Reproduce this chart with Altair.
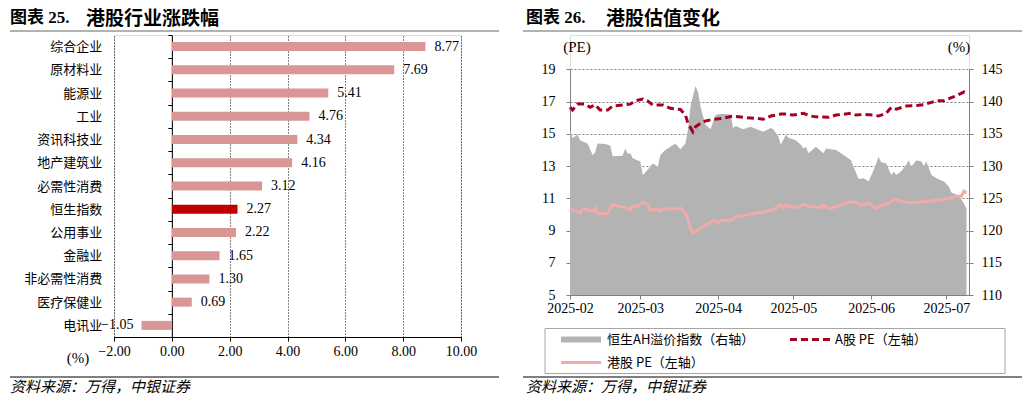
import altair as alt
import pandas as pd

# ---------------- data ----------------
categories = ['综合企业', '原材料业', '能源业', '工业', '资讯科技业', '地产建筑业', '必需性消费',
              '恒生指数', '公用事业', '金融业', '非必需性消费', '医疗保健业', '电讯业']
changes = [8.77, 7.69, 5.41, 4.76, 4.34, 4.16, 3.12, 2.27, 2.22, 1.65, 1.30, 0.69, -1.05]
highlight_cat = '恒生指数'

ah_dates = ['2025-02-01', '2025-02-02', '2025-02-04', '2025-02-05', '2025-02-08', '2025-02-10', '2025-02-11',
            '2025-02-12', '2025-02-15', '2025-02-17', '2025-02-18', '2025-02-22', '2025-02-23', '2025-02-24',
            '2025-02-25', '2025-02-26', '2025-03-01', '2025-03-02', '2025-03-03', '2025-03-06', '2025-03-08',
            '2025-03-09', '2025-03-11', '2025-03-15', '2025-03-17', '2025-03-19', '2025-03-20', '2025-03-21',
            '2025-03-23', '2025-03-24', '2025-03-25', '2025-03-27', '2025-03-29', '2025-03-31', '2025-04-02',
            '2025-04-06', '2025-04-07', '2025-04-08', '2025-04-11', '2025-04-14', '2025-04-16', '2025-04-19',
            '2025-04-22', '2025-04-23', '2025-04-25', '2025-04-26', '2025-04-28', '2025-04-29', '2025-05-02',
            '2025-05-04', '2025-05-05', '2025-05-06', '2025-05-07', '2025-05-10', '2025-05-13', '2025-05-14',
            '2025-05-18', '2025-05-21', '2025-05-24', '2025-05-25', '2025-05-27', '2025-05-29', '2025-05-31',
            '2025-06-02', '2025-06-04', '2025-06-05', '2025-06-07', '2025-06-09', '2025-06-10', '2025-06-11',
            '2025-06-13', '2025-06-15', '2025-06-16', '2025-06-17', '2025-06-19', '2025-06-21', '2025-06-22',
            '2025-06-23', '2025-06-25', '2025-06-27', '2025-06-30', '2025-07-02', '2025-07-03', '2025-07-06',
            '2025-07-08', '2025-07-09']
ah_values = [135.6, 134.3, 134.9, 134.0, 133.5, 131.7, 132.1, 133.5, 133.4, 133.2, 131.5, 131.6, 132.7, 131.9,
             132.0, 131.2, 130.7, 128.6, 129.0, 130.4, 129.9, 131.7, 132.5, 133.5, 132.6, 133.5, 135.6, 139.2,
             142.4, 141.5, 139.2, 136.4, 135.7, 137.9, 138.1, 138.0, 135.9, 136.2, 135.7, 136.1, 135.8, 135.3,
             135.9, 135.7, 134.6, 133.3, 134.8, 134.4, 134.0, 133.3, 132.7, 133.0, 132.0, 133.0, 132.0, 132.7,
             132.5, 131.7, 130.9, 129.9, 128.0, 128.1, 127.6, 129.4, 131.4, 130.6, 130.4, 128.6, 129.1, 128.6,
             129.2, 130.2, 130.9, 129.9, 130.9, 130.7, 130.0, 130.7, 128.6, 128.1, 127.6, 126.8, 125.9, 125.4,
             124.2, 123.4]

a_dates = ['2025-02-01', '2025-02-02', '2025-02-04', '2025-02-07', '2025-02-09', '2025-02-11', '2025-02-13',
           '2025-02-16', '2025-02-18', '2025-02-22', '2025-02-25', '2025-02-27', '2025-03-02', '2025-03-04',
           '2025-03-06', '2025-03-10', '2025-03-13', '2025-03-17', '2025-03-19', '2025-03-20', '2025-03-22',
           '2025-03-23', '2025-03-26', '2025-03-30', '2025-04-03', '2025-04-07', '2025-04-11', '2025-04-16',
           '2025-04-19', '2025-04-22', '2025-04-26', '2025-04-28', '2025-05-01', '2025-05-05', '2025-05-08',
           '2025-05-10', '2025-05-15', '2025-05-18', '2025-05-24', '2025-05-26', '2025-05-29', '2025-06-02',
           '2025-06-04', '2025-06-07', '2025-06-09', '2025-06-11', '2025-06-15', '2025-06-21', '2025-06-25',
           '2025-06-27', '2025-06-30', '2025-07-04', '2025-07-08', '2025-07-09']
a_pe = [16.64, 16.47, 16.84, 16.84, 16.64, 16.80, 16.47, 16.47, 16.72, 16.78, 16.84, 17.05, 17.16, 17.03,
        16.78, 16.78, 16.58, 16.51, 16.16, 15.65, 15.12, 15.43, 15.75, 15.90, 15.96, 16.10, 16.02, 15.96,
        15.90, 16.10, 16.22, 16.22, 16.16, 16.27, 16.10, 16.05, 16.02, 16.16, 16.27, 16.16, 16.20, 16.16,
        16.10, 16.27, 16.64, 16.53, 16.72, 16.78, 16.95, 17.05, 17.05, 17.30, 17.59, 17.51]

hk_dates = ['2025-02-01', '2025-02-02', '2025-02-04', '2025-02-05', '2025-02-06', '2025-02-08', '2025-02-10',
            '2025-02-11', '2025-02-12', '2025-02-16', '2025-02-18', '2025-02-20', '2025-02-23', '2025-02-25',
            '2025-02-26', '2025-02-28', '2025-03-02', '2025-03-04', '2025-03-05', '2025-03-08', '2025-03-09',
            '2025-03-10', '2025-03-14', '2025-03-17', '2025-03-19', '2025-03-20', '2025-03-21', '2025-03-22',
            '2025-03-25', '2025-03-29', '2025-03-31', '2025-04-01', '2025-04-02', '2025-04-06', '2025-04-08',
            '2025-04-11', '2025-04-15', '2025-04-19', '2025-04-23', '2025-04-26', '2025-04-27', '2025-04-28',
            '2025-04-30', '2025-05-02', '2025-05-05', '2025-05-08', '2025-05-12', '2025-05-13', '2025-05-15',
            '2025-05-18', '2025-05-21', '2025-05-24', '2025-05-26', '2025-05-28', '2025-05-31', '2025-06-03',
            '2025-06-05', '2025-06-08', '2025-06-10', '2025-06-14', '2025-06-17', '2025-06-21', '2025-06-23',
            '2025-06-26', '2025-06-29', '2025-07-01', '2025-07-02', '2025-07-05', '2025-07-07', '2025-07-08',
            '2025-07-09']
hk_pe = [10.16, 10.30, 10.16, 10.09, 10.37, 10.30, 10.16, 10.40, 10.06, 10.06, 10.63, 10.51, 10.43, 10.30,
         10.50, 10.51, 10.76, 10.60, 10.26, 10.33, 10.20, 10.37, 10.33, 10.40, 10.06, 9.70, 9.12, 8.85,
         9.12, 9.53, 9.64, 9.43, 9.64, 9.64, 9.84, 9.91, 10.06, 10.15, 10.30, 10.57, 10.43, 10.60,
         10.47, 10.42, 10.63, 10.48, 10.43, 10.57, 10.37, 10.47, 10.65, 10.78, 10.74, 10.57, 10.68, 10.37,
         10.57, 10.68, 10.93, 10.78, 10.72, 10.78, 10.78, 10.88, 10.93, 10.99, 10.95, 11.13, 11.13, 11.44,
         11.34]

left_ticks = [-2, 0, 2, 4, 6, 8, 10]
pe_ticks = [5, 7, 9, 11, 13, 15, 17, 19]
ah_ticks = [110, 115, 120, 125, 130, 135, 140, 145]

# ---------------- style ----------------
CJK = 'Noto Sans CJK SC'
SERIF = 'Liberation Serif, Noto Sans CJK SC'
BAR = '#D99694'
BAR_HL = '#C00000'
AREA = '#B3B3B3'
RED = '#A50026'
PINK = '#F0AAAA'
GREY = '#808080'

one = pd.DataFrame({'v': [0]})


def txt(s, x, y, size, font=CJK, align='left', baseline='middle', weight='normal', style='normal'):
    return alt.Chart(one).mark_text(text=s, align=align, baseline=baseline, fontSize=size, font=font,
                                    fontWeight=weight, fontStyle=style, color='black').encode(
        x=alt.value(x), y=alt.value(y))


def hrule(x1, x2, y, color, width, dash=None):
    kw = dict(color=color, strokeWidth=width)
    if dash:
        kw['strokeDash'] = dash
    return alt.Chart(one).mark_rule(**kw).encode(x=alt.value(x1), x2=alt.value(x2), y=alt.value(y))


# ---------------- left panel ----------------
W1, H1 = 347, 302
df_bar = pd.DataFrame({'cat': categories, 'val': changes})
df_bar['kind'] = ['hl' if c == highlight_cat else 'base' for c in categories]

zero_off = -W1 * 2 / 12

y_bar = alt.Y('cat:N', sort=categories, scale=alt.Scale(paddingInner=0, paddingOuter=0),
              axis=alt.Axis(title=None, offset=zero_off, tickBand='extent', tickSize=4, tickColor='black',
                            domainColor='black', domainWidth=1, labelPadding=66, labelFont=CJK,
                            labelFontSize=13, labelColor='black', grid=False))
x_bar = alt.X('val:Q', scale=alt.Scale(domain=[-2, 10], nice=False, zero=False),
              axis=alt.Axis(title=None, values=left_ticks, format='.2f', grid=True, gridDash=[1, 2],
                            gridColor='black', gridOpacity=1, gridWidth=1, tickSize=4, tickColor='black',
                            domainColor='black', labelFont=SERIF, labelFontSize=14, labelColor='black',
                            labelPadding=3, labelFlush=False))

bars = alt.Chart(df_bar).mark_bar(size=9).encode(
    x=x_bar, y=y_bar,
    color=alt.Color('kind:N', scale=alt.Scale(domain=['base', 'hl'], range=[BAR, BAR_HL]), legend=None))
lab_pos = alt.Chart(df_bar).transform_filter(alt.datum.val >= 0).mark_text(
    align='left', dx=9, baseline='middle', font=SERIF, fontSize=14, color='black').encode(
    x=alt.X('val:Q'), y=alt.Y('cat:N', sort=categories), text=alt.Text('val:Q', format='.2f'))
lab_neg = alt.Chart(df_bar).transform_filter(alt.datum.val < 0).mark_text(
    align='right', dx=-8, baseline='middle', font=SERIF, fontSize=14, color='black').encode(
    x=alt.X('val:Q'), y=alt.Y('cat:N', sort=categories), text=alt.Text('val:Q', format='.2f'))

left = alt.layer(
    bars, lab_pos, lab_neg,
    txt('图表 25.', -104, -25, 17, font=SERIF, baseline='top', weight='bold'),
    txt('港股行业涨跌幅', -28, -25, 19, font=SERIF, baseline='top', weight='bold'),
    hrule(-104, 385, -4, '#999999', 1.5),
    txt('(%)', -36, 323, 15, font=SERIF, align='center'),
    hrule(-104, 385, 342, 'black', 1),
    txt('资料来源：万得，中银证券', -104, 352, 15, style='italic'),
).properties(width=W1, height=H1)

# ---------------- right panel ----------------
# plot origin shares the left panel's top; the value range sits inside via explicit ranges
W2, H2 = 399, 260
Y_RANGE = [260, 34.3]


def dt(m, d):
    return alt.DateTime(year=2025, month=m, date=d, utc=True)


x_time = alt.X('date:T', scale=alt.Scale(type='utc', domain=[dt(2, 1), dt(7, 10)]),
               axis=alt.Axis(title=None, values=[dt(m, 1) for m in range(2, 8)], format='%Y-%m',
                             tickSize=4, tickColor=GREY, domainColor=GREY, labelFlush=False,
                             labelFont=SERIF, labelFontSize=14, labelColor='black', labelPadding=2,
                             grid=False))

df_ah = pd.DataFrame({'date': ah_dates, 'ah': ah_values})
area = alt.Chart(df_ah).mark_area(color=AREA, opacity=1).encode(
    x=x_time,
    y=alt.Y('ah:Q', scale=alt.Scale(domain=[110, 145], range=Y_RANGE, nice=False, zero=False),
            axis=alt.Axis(title=None, orient='right', values=ah_ticks, tickSize=4, tickColor=GREY,
                          domainColor=GREY, labelFont=SERIF, labelFontSize=14, labelColor='black',
                          labelPadding=8, grid=False)),
    y2=alt.datum(110))

pe_y = alt.Y('pe:Q', scale=alt.Scale(domain=[5, 19], range=Y_RANGE, nice=False, zero=False),
             axis=alt.Axis(title=None, orient='left', values=pe_ticks, tickSize=4, tickColor=GREY,
                           domainColor=GREY, labelFont=SERIF, labelFontSize=14, labelColor='black',
                           labelPadding=11, grid=True, gridColor=GREY, gridDash=[2, 2], gridOpacity=1))

df_a = pd.DataFrame({'date': a_dates, 'pe': a_pe})
df_hk = pd.DataFrame({'date': hk_dates, 'pe': hk_pe})
line_a = alt.Chart(df_a).mark_line(strokeWidth=3, color=RED, strokeDash=[7, 4]).encode(x=x_time, y=pe_y)
line_hk = alt.Chart(df_hk).mark_line(strokeWidth=3, color=PINK).encode(x=x_time, y=pe_y)
lines = alt.layer(line_hk, line_a)

legend_box = alt.Chart(one).mark_rect(fill='white', stroke='#A6A6A6', strokeWidth=1).encode(
    x=alt.value(-25), x2=alt.value(435), y=alt.value(293.5), y2=alt.value(338.5))
leg_area = alt.Chart(one).mark_rect(color=AREA).encode(
    x=alt.value(-9), x2=alt.value(31), y=alt.value(301.5), y2=alt.value(307.5))

right = alt.layer(
    area, lines,
    txt('图表 26.', -44, -25, 17, font=SERIF, baseline='top', weight='bold'),
    txt('港股估值变化', 36, -25, 19, font=SERIF, baseline='top', weight='bold'),
    hrule(-47, 452, -4, '#999999', 1.5),
    txt('(PE)', 7, 11.5, 15, font=SERIF, align='center'),
    txt('(%)', 389, 11.5, 15, font=SERIF, align='center'),
    legend_box, leg_area,
    txt('恒生AH溢价指数（右轴）', 37, 304.5, 13),
    hrule(220, 262, 304.5, RED, 3, dash=[7, 4]),
    txt('A股 PE（左轴）', 265, 304.5, 13),
    hrule(-9, 31, 327.5, PINK, 3),
    txt('港股 PE（左轴）', 37, 327.5, 13),
    hrule(-47, 452, 342, 'black', 1),
    txt('资料来源：万得，中银证券', -44, 352, 15, style='italic'),
).resolve_scale(y='independent').properties(width=W2, height=H2)

chart = alt.hconcat(left, right, spacing=20).properties(padding=0).configure_view(stroke=None).configure(
    background='white')

chart.save('out.html', embed_options={'renderer': 'svg', 'actions': False})
